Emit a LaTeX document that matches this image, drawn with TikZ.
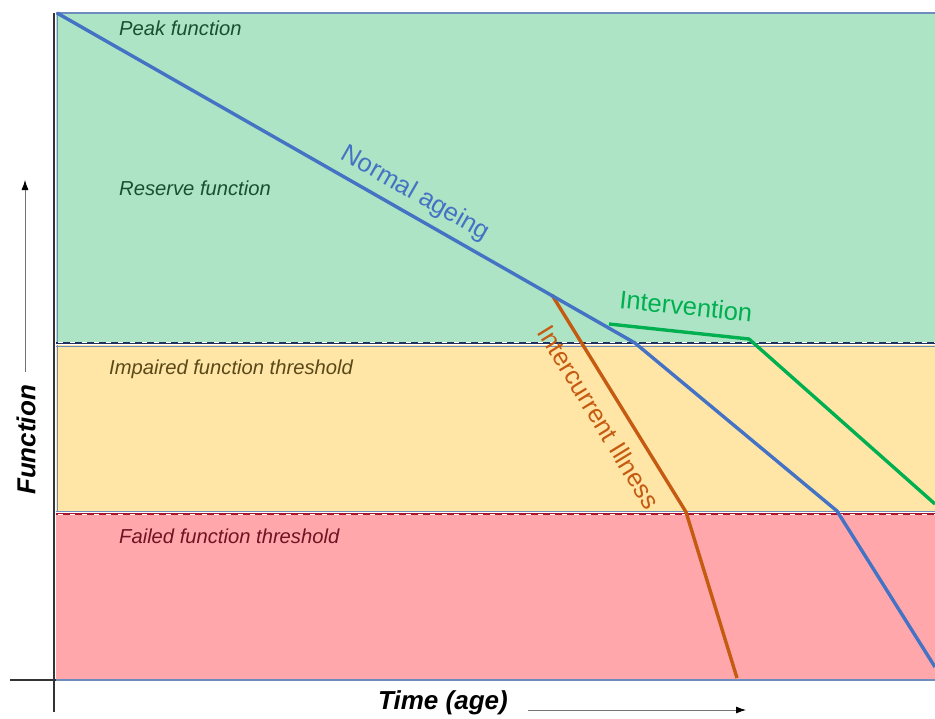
\documentclass[tikz,border=0pt]{standalone}
\usepackage{fontspec}
\setmainfont{Liberation Sans}
\usetikzlibrary{arrows.meta}
\definecolor{zgreen}{RGB}{172,228,197}
\definecolor{zyellow}{RGB}{255,230,167}
\definecolor{zred}{RGB}{255,167,170}
\definecolor{zborder}{RGB}{110,140,190}
\definecolor{lblue}{RGB}{68,114,196}
\definecolor{lorange}{RGB}{197,90,17}
\definecolor{lgreen}{RGB}{0,176,80}
\definecolor{tgreen}{RGB}{24,80,48}
\definecolor{tbrown}{RGB}{90,72,24}
\definecolor{tred}{RGB}{110,20,36}
\definecolor{navy}{RGB}{31,50,96}
\definecolor{dred}{RGB}{170,20,40}
\begin{document}
\begin{tikzpicture}[x=1pt,y=-1pt,
  zone/.style={draw=zborder,line width=1.2pt},
  zlabel/.style={anchor=base west,font=\fontsize{20.2}{24}\selectfont\itshape,inner sep=0pt},
  curve/.style={line width=3.4pt,line join=round},
  clabel/.style={font=\fontsize{25.5}{30}\selectfont,inner sep=0pt},
  axlabel/.style={font=\fontsize{26}{31}\selectfont\bfseries\itshape,inner sep=0pt},
  thin arrow/.style={draw=black!55,line width=0.8pt,-{Latex[length=10pt,width=7pt,black]}}]
\useasboundingbox (0,0) rectangle (935,718);
% zones
\fill[zgreen] (56,13) rectangle (935,342);
\fill[zyellow] (56,345) rectangle (935,512);
\fill[zred] (56,515) rectangle (935,680);
\draw[zborder,line width=1.5pt] (56,13) -- (935,13);
\draw[zborder,line width=1.2pt] (57.5,13) -- (57.5,342);
\draw[zborder,line width=1.2pt] (57.5,345) -- (57.5,512);
% threshold lines
\draw[zborder,line width=1pt] (56,346) -- (935,346);
\draw[navy,line width=2pt] (56,342.5) -- (935,342.5);
\draw[white,line width=1pt,dash pattern=on 5pt off 7pt] (58,342.5) -- (935,342.5);
\draw[zborder,line width=1pt] (56,511.5) -- (935,511.5);
\draw[dred,line width=2pt] (56,514) -- (935,514);
\draw[white,line width=1pt,dash pattern=on 5pt off 7pt] (58,514) -- (935,514);
\draw[zborder,line width=1.5pt] (56,680) -- (935,680);
% axes
\coordinate (yb) at (54,712);
\coordinate (yt) at (54,13);
\coordinate (xl) at (10,680);
\coordinate (xr) at (935,680);
\draw[black!80,line width=1.6pt] (yb) -- (yt);
\draw[black!80,line width=1.6pt] (xl) -- (56,680);
% zone labels
\node[zlabel,text=tgreen] (peak) at (119,35.5) {Peak function};
\node[zlabel,text=tgreen] (reserve) at (119,195.5) {Reserve function};
\node[zlabel,text=tbrown] (impaired) at (109,374) {Impaired function threshold};
\node[zlabel,text=tred] (failed) at (119,543) {Failed function threshold};
% curves
\coordinate (b0) at (57,13);
\coordinate (b1) at (635,343);
\coordinate (b2) at (837,511);
\coordinate (b3) at (935,667);
\coordinate (o0) at (552,295);
\coordinate (o1) at (686,512);
\coordinate (o2) at (737,678);
\coordinate (g0) at (609,324);
\coordinate (g1) at (749,339);
\coordinate (g2) at (935,504);
\draw[curve,lorange] (o0) -- (o1) -- (o2);
\draw[curve,lblue] (b0) -- (b1) -- (b2) -- (b3);
\draw[curve,lgreen] (g0) -- (g1) -- (g2);
% curve labels
\node[clabel,text=lblue,rotate=-29.7] (normal) at (415,194) {Normal ageing};
\node[clabel,text=lgreen,rotate=-6] (interv) at (686,306) {Intervention};
\node[clabel,text=lorange,rotate=-58.4] (illness) at (599,417) {Intercurrent Illness};
% axis labels
\node[axlabel,rotate=90] (func) at (26,440) {Function};
\node[axlabel] (time) at (443,703) {Time (age)};
\coordinate (fa0) at (25,372);
\coordinate (fa1) at (25,180);
\coordinate (ta0) at (528,710);
\coordinate (ta1) at (746,710);
\draw[thin arrow] (fa0) -- (fa1);
\draw[thin arrow] (ta0) -- (ta1);
\end{tikzpicture}
\end{document}
